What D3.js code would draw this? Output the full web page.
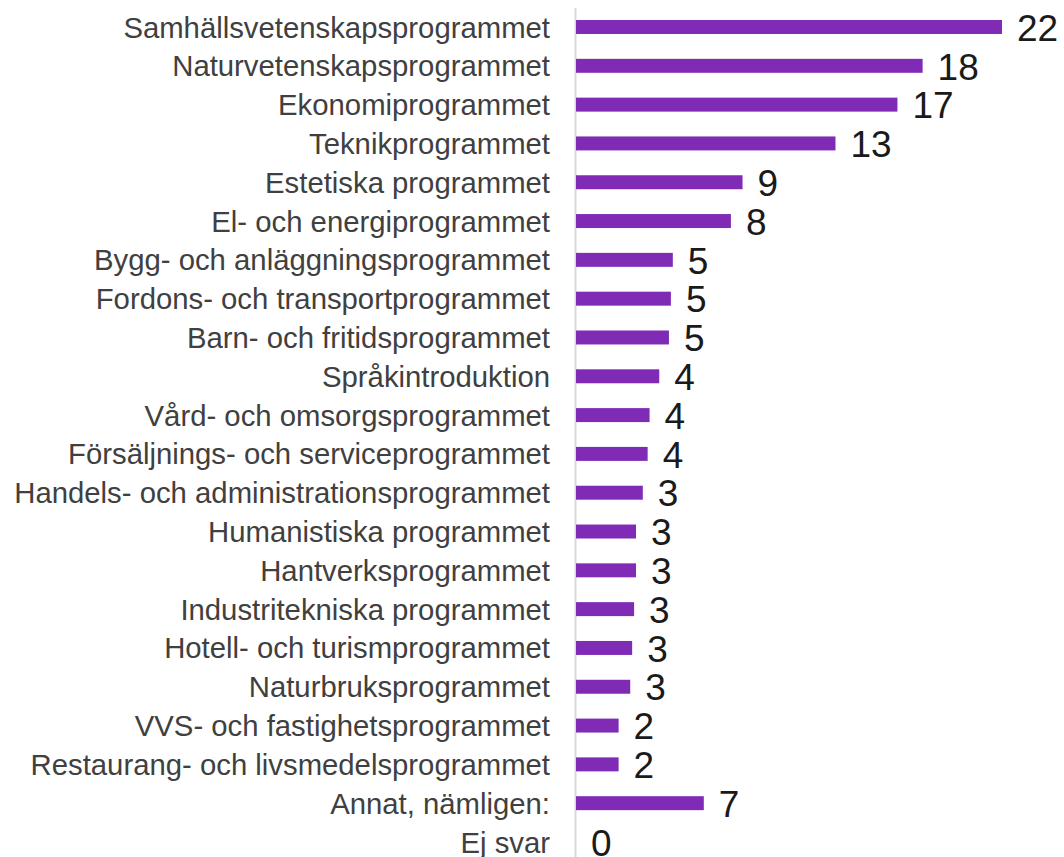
<!DOCTYPE html>
<html>
<head>
<meta charset="utf-8">
<script src="https://cdn.jsdelivr.net/npm/d3@7"></script>
<style>
  html, body { margin: 0; padding: 0; background: #fff; }
  svg { display: block; font-family: "Liberation Sans", Arial, sans-serif; }
</style>
</head>
<body>
<div id="chart"></div>
<script>
const categories = [
  "Samhällsvetenskapsprogrammet",
  "Naturvetenskapsprogrammet",
  "Ekonomiprogrammet",
  "Teknikprogrammet",
  "Estetiska programmet",
  "El- och energiprogrammet",
  "Bygg- och anläggningsprogrammet",
  "Fordons- och transportprogrammet",
  "Barn- och fritidsprogrammet",
  "Språkintroduktion",
  "Vård- och omsorgsprogrammet",
  "Försäljnings- och serviceprogrammet",
  "Handels- och administrationsprogrammet",
  "Humanistiska programmet",
  "Hantverksprogrammet",
  "Industritekniska programmet",
  "Hotell- och turismprogrammet",
  "Naturbruksprogrammet",
  "VVS- och fastighetsprogrammet",
  "Restaurang- och livsmedelsprogrammet",
  "Annat, nämligen:",
  "Ej svar"
];
const values = [22.0, 17.9, 16.6, 13.4, 8.6, 8.0, 5.0, 4.9, 4.8, 4.3, 3.8, 3.7, 3.45, 3.1, 3.1, 3.0, 2.9, 2.8, 2.2, 2.2, 6.6, 0];

const width = 1064;
const height = 857;
const axisX = 576;

const data = categories.map((c, i) => ({ name: c, value: values[i] }));

const x = d3.scaleLinear().domain([0, 22]).range([axisX, 1002]);
const y = d3.scaleBand()
  .domain(categories)
  .range([7.6, 861.4])
  .paddingInner(0.64)
  .paddingOuter(0.32);

const svg = d3.select("#chart")
  .append("svg")
  .attr("width", width)
  .attr("height", height);

svg.append("line")
  .attr("x1", axisX - 0.5).attr("x2", axisX - 0.5)
  .attr("y1", 8).attr("y2", height)
  .attr("stroke", "#d9d9d9")
  .attr("stroke-width", 2);

svg.selectAll("rect.bar")
  .data(data)
  .enter()
  .append("rect")
  .attr("class", "bar")
  .attr("x", x(0))
  .attr("y", d => y(d.name))
  .attr("width", d => x(d.value) - x(0))
  .attr("height", y.bandwidth())
  .attr("fill", "#7f2bb5");

svg.selectAll("text.cat")
  .data(data)
  .enter()
  .append("text")
  .attr("class", "cat")
  .attr("x", axisX - 26)
  .attr("y", d => y(d.name) + y.bandwidth() / 2)
  .attr("dy", "0.36em")
  .attr("text-anchor", "end")
  .attr("font-size", 29.3)
  .attr("fill", "#404040")
  .text(d => d.name);

svg.selectAll("text.val")
  .data(data)
  .enter()
  .append("text")
  .attr("class", "val")
  .attr("x", d => x(d.value) + 15)
  .attr("y", d => y(d.name) + y.bandwidth() / 2)
  .attr("dy", "0.37em")
  .attr("font-size", 37)
  .attr("fill", "#1a1a1a")
  .text(d => d3.format(".0f")(d.value));
</script>
</body>
</html>
